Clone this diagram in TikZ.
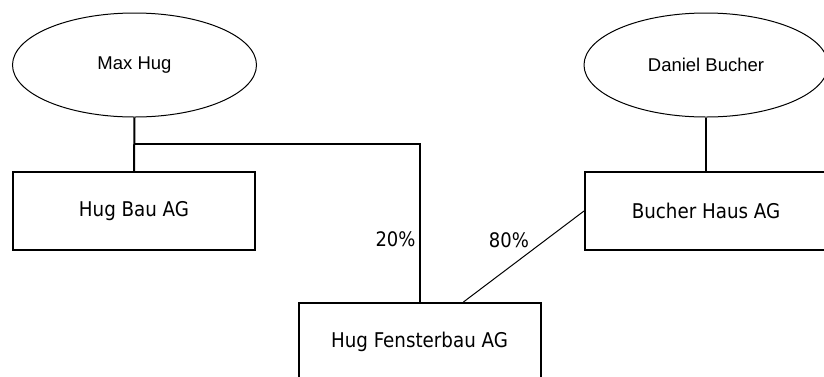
\documentclass[tikz,border=0pt]{standalone}
\usepackage{fontspec}
\usetikzlibrary{calc,shapes.geometric}
\newfontfamily\personfont{Liberation Sans}
\newfontfamily\firmafont{DejaVu Sans Condensed}
\tikzset{
  person/.style={ellipse, draw, line width=1pt, minimum width=244pt, minimum height=104pt, inner sep=0pt, font={\personfont\fontsize{18.5}{22}\selectfont}},
  firma/.style={rectangle, draw, line width=2pt, minimum width=242pt, minimum height=78pt, inner sep=0pt, font={\firmafont\fontsize{20.3}{24}\selectfont}},
  beteiligung/.style={line width=2pt},
  anteil/.style={inner sep=0pt, font={\firmafont\fontsize{20}{24}\selectfont}}
}
\begin{document}
\begin{tikzpicture}[x=1pt, y=-1pt]
  %%%%% START %%%%%
  \useasboundingbox (0,0) rectangle (824,376);
  \clip (0,0) rectangle (824,376);

  % Personen
  \node[person] (maxhug) at (134.5,65) {Max Hug};
  \node[person] (bucher) at (706,65) {Daniel Bucher};

  % Firmen
  \node[firma] (hugbau) at (134,211) {Hug Bau AG};
  \node[firma] (bucherhaus) at (706,211) {Bucher Haus AG};
  \node[firma] (fenster) at (419.5,342) {Hug Fensterbau AG};

  \coordinate (abzweig) at ($(maxhug.south)!0.5!(hugbau.north)$);

  \draw[beteiligung] (maxhug.south) -- (hugbau.north);
  \draw[beteiligung] (bucher.south) -- (bucherhaus.north);
  \draw[beteiligung] (abzweig) -| node[anteil, pos=0.8, left=3pt] {20\%} (fenster.north);
  \draw[line width=1pt] (bucherhaus.west) -- node[anteil, pos=0.32, left=16pt] {80\%}
    ($(fenster.north west)!0.68!(fenster.north east)$);
  %%%%% END %%%%%
\end{tikzpicture}
\end{document}
